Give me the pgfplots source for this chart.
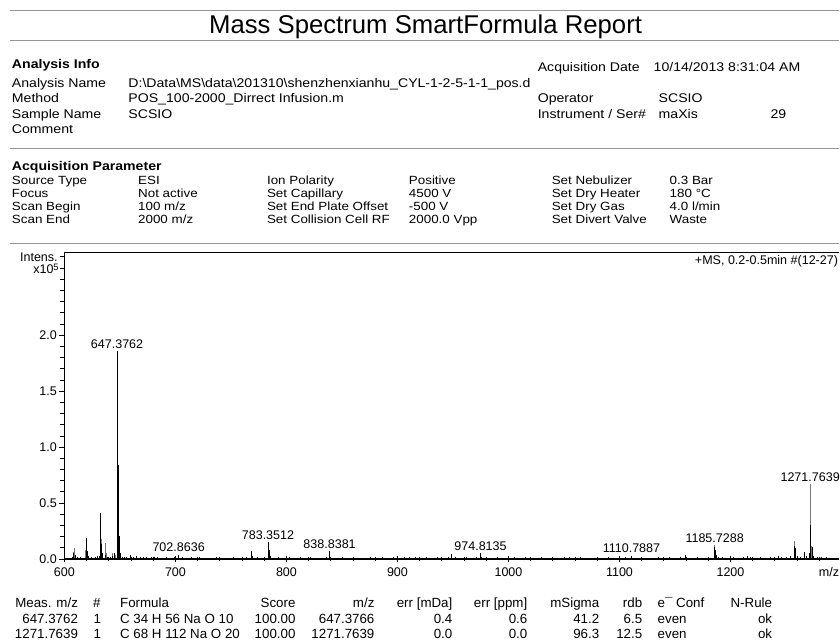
\documentclass[border=0pt]{standalone}
\usepackage{pgfplots}
\pgfplotsset{compat=1.18}
\usepackage{pgfplotstable}
\usepackage{fontspec}
\setmainfont{Liberation Sans}
\newfontfamily\hdrfont[FakeStretch=1.12]{Liberation Sans}
\newfontfamily\parfont[FakeStretch=1.13]{Liberation Sans}

\pgfplotstableread{
mz h
606 0.01
607.5 0.02
608.5 0.05
610.3 0.04
612 0.02
614 0.015
616 0.01
619.5 0.19
620.5 0.07
621.5 0.03
624 0.015
626 0.01
628 0.02
630 0.025
631.5 0.03
632.4 0.41
633.4 0.13
634.5 0.05
637 0.04
639 0.02
641 0.015
643 0.03
645.3 0.05
647.3762 1.86
648.38 0.84
649.38 0.21
650.4 0.05
652 0.02
654 0.015
656 0.02
659.7 0.04
662 0.02
665 0.025
668 0.015
671 0.02
674 0.015
678 0.02
681 0.015
684 0.02
688 0.01
692 0.015
696 0.01
699 0.015
702.8636 0.04
706 0.015
710 0.01
714 0.015
718 0.01
722 0.015
727 0.01
732 0.01
737 0.015
742 0.01
747 0.01
752 0.015
756 0.01
760 0.015
764 0.02
768.3 0.075
769.3 0.03
774 0.015
778 0.01
783.3512 0.155
784.35 0.08
785.4 0.025
789 0.01
793 0.015
798 0.01
803 0.015
808 0.01
813 0.015
818 0.01
822 0.015
827 0.01
832 0.01
836 0.015
838.8381 0.07
840 0.02
845 0.01
850 0.015
855 0.01
860 0.015
866 0.01
871 0.01
876 0.015
881 0.01
886 0.015
891 0.01
896 0.015
901 0.01
906 0.02
911 0.015
916 0.02
921 0.01
926 0.015
931 0.01
936 0.015
941 0.01
946 0.02
948.6 0.045
952 0.015
957 0.01
962 0.015
967 0.01
971 0.015
974.8135 0.05
976 0.02
980 0.015
985 0.01
990 0.015
995 0.01
1000 0.01
1005 0.015
1010 0.01
1015 0.015
1020 0.01
1025 0.01
1030 0.015
1035 0.01
1040 0.015
1045 0.01
1050 0.015
1055 0.02
1060 0.01
1065 0.015
1070 0.01
1075 0.01
1080 0.015
1085 0.01
1090 0.015
1095 0.01
1100 0.01
1105 0.015
1110.7887 0.03
1115 0.01
1120 0.015
1125 0.01
1130 0.01
1135 0.015
1140 0.01
1145 0.015
1150 0.01
1155 0.015
1159.6 0.035
1165 0.01
1170 0.015
1175 0.01
1180 0.015
1185.7288 0.11
1186.7 0.08
1187.7 0.04
1189 0.02
1193 0.015
1198 0.01
1203 0.015
1208 0.01
1212 0.015
1215 0.03
1218 0.015
1222 0.01
1227 0.015
1232 0.01
1236 0.015
1240 0.02
1243 0.025
1246 0.02
1250 0.02
1254 0.03
1257.7 0.12
1258.7 0.10
1260 0.03
1263 0.02
1266.7 0.065
1268 0.03
1270.7 0.05
1272.4 0.30
1273.4 0.11
1275 0.03
1278 0.02
1282 0.015
1286 0.015
1290 0.01
1294 0.01
}\blackpeaks

\pgfplotstableread{
mz h
608 0.06
609.2 0.10
619 0.08
633.6 0.175
636.6 0.14
638 0.05
643.5 0.05
646 0.04
647.3762 1.86
783.6 0.15
1185.3 0.125
1257.4 0.165
1271.7639 0.67
1273 0.12
}\graypeaks

\definecolor{sep}{RGB}{150,150,150}
\definecolor{prof}{RGB}{120,120,120}

\begin{document}
\begin{tikzpicture}
\begin{scope}[x=0.75pt,y=-0.75pt]
\useasboundingbox (0,0) rectangle (840,641);
% separator lines
\foreach \yy in {11,40.7,149,244} \draw[sep,line width=0.75pt] (10,\yy) -- (840,\yy);
% title
\node[anchor=base west,inner sep=0pt,font=\fontsize{19.3}{23}\selectfont] at (209,34) {Mass Spectrum SmartFormula Report};
% analysis info
\begin{scope}[every node/.style={anchor=base west,inner sep=0pt,font=\hdrfont\fontsize{9.45}{12}\selectfont}]
\node[font=\hdrfont\fontsize{9.45}{12}\selectfont\bfseries] at (11.7,68.3) {Analysis Info};
\node at (11.7,87.3) {Analysis Name};
\node at (128.3,87.3) {D:\textbackslash Data\textbackslash MS\textbackslash data\textbackslash 201310\textbackslash shenzhenxianhu\_CYL-1-2-5-1-1\_pos.d};
\node at (11.7,102.8) {Method};
\node at (128.3,102.8) {POS\_100-2000\_Dirrect Infusion.m};
\node at (11.7,118.3) {Sample Name};
\node at (128.3,118.3) {SCSIO};
\node at (11.7,134) {Comment};
\node at (538,72) {Acquisition Date};
\node at (654,72) {10/14/2013 8:31:04 AM};
\node at (538,102.8) {Operator};
\node at (659,102.8) {SCSIO};
\node at (538,118.3) {Instrument / Ser\#};
\node at (659,118.3) {maXis};
\node at (771,118.3) {29};
\end{scope}
% acquisition parameter
\begin{scope}[every node/.style={anchor=base west,inner sep=0pt,font=\parfont\fontsize{8.9}{11}\selectfont}]
\node[font=\hdrfont\fontsize{9.45}{12}\selectfont\bfseries] at (11.7,170.5) {Acquisition Parameter};
\node at (11.7,185) {Source Type};
\node at (138,185) {ESI};
\node at (267,185) {Ion Polarity};
\node at (409,185) {Positive};
\node at (552,185) {Set Nebulizer};
\node at (670,185) {0.3 Bar};
\node at (11.7,198) {Focus};
\node at (138,198) {Not active};
\node at (267,198) {Set Capillary};
\node at (409,198) {4500 V};
\node at (552,198) {Set Dry Heater};
\node at (670,198) {180 °C};
\node at (11.7,211) {Scan Begin};
\node at (138,211) {100 m/z};
\node at (267,211) {Set End Plate Offset};
\node at (409,211) {-500 V};
\node at (552,211) {Set Dry Gas};
\node at (670,211) {4.0 l/min};
\node at (11.7,224) {Scan End};
\node at (138,224) {2000 m/z};
\node at (267,224) {Set Collision Cell RF};
\node at (409,224) {2000.0 Vpp};
\node at (552,224) {Set Divert Valve};
\node at (670,224) {Waste};
\end{scope}
% axis annotations
\begin{scope}[every node/.style={inner sep=0pt,font=\fontsize{9.4}{11}\selectfont}]
\node[anchor=base east] at (58,261.5) {Intens.};
\node[anchor=base east] at (59,273.5) {x10\raisebox{2.4pt}{\fontsize{7}{8}\selectfont 5}};
\node[anchor=base east] at (839,265) {+MS, 0.2-0.5min \#(12-27)};
\node[anchor=base east] at (840,577) {m/z};
\end{scope}
% table
\begin{scope}[every node/.style={inner sep=0pt,font=\fontsize{10}{12}\selectfont}]
\node[anchor=base east] at (78.3,608.3) {Meas. m/z};
\node[anchor=base] at (97,608.3) {\#};
\node[anchor=base west] at (120,608.3) {Formula};
\node[anchor=base east] at (296,608.3) {Score};
\node[anchor=base east] at (375,608.3) {m/z};
\node[anchor=base east] at (453,608.3) {err [mDa]};
\node[anchor=base east] at (528,608.3) {err [ppm]};
\node[anchor=base east] at (600,608.3) {mSigma};
\node[anchor=base east] at (643,608.3) {rdb};
\node[anchor=base west] at (658,608.3) {e¯ Conf};
\node[anchor=base east] at (773,608.3) {N-Rule};
\node[anchor=base east] at (78.3,624) {647.3762};
\node[anchor=base] at (97.5,624) {1};
\node[anchor=base west] at (120,624) {C 34 H 56 Na O 10};
\node[anchor=base east] at (296,624) {100.00};
\node[anchor=base east] at (375,624) {647.3766};
\node[anchor=base east] at (453,624) {0.4};
\node[anchor=base east] at (528,624) {0.6};
\node[anchor=base east] at (600,624) {41.2};
\node[anchor=base east] at (643,624) {6.5};
\node[anchor=base west] at (658,624) {even};
\node[anchor=base east] at (773,624) {ok};
\node[anchor=base east] at (78.3,639.5) {1271.7639};
\node[anchor=base] at (97.5,639.5) {1};
\node[anchor=base west] at (120,639.5) {C 68 H 112 Na O 20};
\node[anchor=base east] at (296,639.5) {100.00};
\node[anchor=base east] at (375,639.5) {1271.7639};
\node[anchor=base east] at (453,639.5) {0.0};
\node[anchor=base east] at (528,639.5) {0.0};
\node[anchor=base east] at (600,639.5) {96.3};
\node[anchor=base east] at (643,639.5) {12.5};
\node[anchor=base west] at (658,639.5) {even};
\node[anchor=base east] at (773,639.5) {ok};
\end{scope}
\end{scope}

\begin{axis}[
  at={(48.375pt,-419.625pt)}, anchor=south west,
  scale only axis, width=581.625pt, height=230.4pt,
  xmin=600, xmax=1298, ymin=0, ymax=2.743,
  axis x line*=bottom, axis y line*=left,
  axis line style={-, black, line width=0.75pt},
  xtick={600,700,...,1200},
  minor xtick={600,620,...,1300},
  ytick={0,0.5,1,1.5,2},
  minor ytick={0,0.1,...,2.75},
  xticklabel={\pgfmathprintnumber[1000 sep={}]{\tick}},
  yticklabel={\pgfmathprintnumber[fixed,fixed zerofill,precision=1]{\tick}},
  scaled y ticks=false, scaled x ticks=false,
  /pgf/number format/assume math mode=true,
  tick style={black, line width=0.6pt},
  major tick length=4pt, minor tick length=3pt,
  ytick align=outside,
  xtick align=center,
  ticklabel style={font=\fontsize{9.4}{11}\selectfont, inner sep=0pt},
  xticklabel style={anchor=north, yshift=-4.5pt},
  yticklabel style={anchor=east, xshift=-1.5pt},
  clip=false,
]
\addplot[prof, line width=0.6pt, ycomb, mark=none] table[x=mz,y=h] {\graypeaks};
\addplot[black, line width=0.6pt, ycomb, mark=none] table[x=mz,y=h] {\blackpeaks};
\addplot[black, line width=1.1pt, mark=none] coordinates {(600,0.005) (1298,0.005)};
\draw[black, line width=0.75pt] (rel axis cs:0,1) -- (rel axis cs:1,1);
\begin{scope}[every node/.style={anchor=base,inner sep=0pt,yshift=2pt,font=\fontsize{9.4}{11}\selectfont}]
\node at (axis cs:647.3762,1.86) {647.3762};
\node at (axis cs:702.8636,0.04) {702.8636};
\node at (axis cs:783.3512,0.155) {783.3512};
\node at (axis cs:838.8381,0.07) {838.8381};
\node at (axis cs:974.8135,0.05) {974.8135};
\node at (axis cs:1110.7887,0.03) {1110.7887};
\node at (axis cs:1185.7288,0.125) {1185.7288};
\node at (axis cs:1271.7639,0.67) {1271.7639};
\end{scope}
\end{axis}
\end{tikzpicture}
\end{document}
